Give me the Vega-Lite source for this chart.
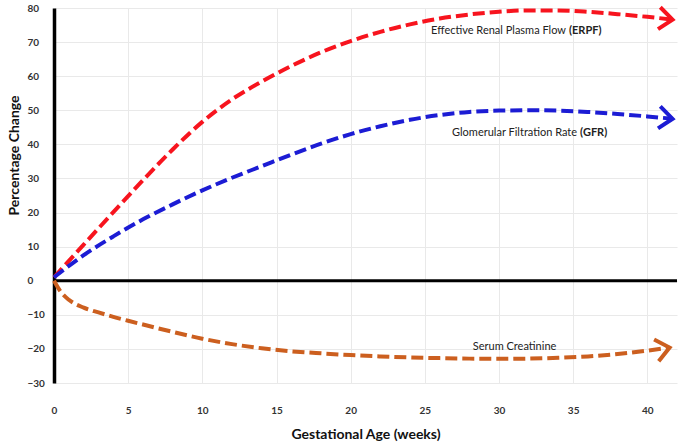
{
  "$schema": "https://vega.github.io/schema/vega-lite/v6.json",
  "autosize": {"type": "none"},
  "width": 623,
  "height": 375,
  "padding": {"left": 54, "top": 8, "right": 2, "bottom": 62},
  "background": "white",
  "config": {
    "view": {"stroke": null},
    "font": "Lato",
    "axisY": {
      "values": [-30, -20, -10, 0, 10, 20, 30, 40, 50, 60, 70, 80],
      "labelOverlap": false, "labelBound": false, "labelFlush": false,
      "titleFont": "Lato", "titleFontSize": 14, "titleFontWeight": "bold", "titleColor": "#111",
      "titleAngle": -90, "titleX": -40, "titleY": 147, "titleAlign": "center", "titleBaseline": "middle",
      "labelFont": "Lato", "labelFontSize": 10, "labelFontWeight": "bold", "labelColor": "#333",
      "labelAlign": "left", "labelPadding": 27, "ticks": false,
      "domain": true, "domainColor": "black", "domainWidth": 3.5,
      "grid": true, "gridColor": "#e9e9e9", "gridWidth": 1
    },
    "axisX": {
      "values": [0, 2.5, 5, 7.5, 10, 12.5, 15, 17.5, 20, 22.5, 25, 27.5, 30, 32.5, 35, 37.5, 40],
      "labelExpr": "datum.value % 5 === 0 ? datum.label : ''",
      "labelOverlap": false, "labelFlush": false, "labelBound": false,
      "titleFont": "Lato", "titleFontSize": 14, "titleFontWeight": "bold", "titleColor": "#111",
      "titlePadding": 12,
      "labelFont": "Lato", "labelFontSize": 10, "labelFontWeight": "bold", "labelColor": "#333",
      "labelPadding": 22, "ticks": false, "domain": false,
      "grid": true, "gridColor": "#e9e9e9", "gridWidth": 1
    }
  },
  "datasets": {
    "curves": [
      {"series": "ERPF", "week": 0, "value": 1},
      {"series": "ERPF", "week": 2, "value": 10.6},
      {"series": "ERPF", "week": 4, "value": 20.1},
      {"series": "ERPF", "week": 6, "value": 29.5},
      {"series": "ERPF", "week": 8, "value": 38.5},
      {"series": "ERPF", "week": 10, "value": 46.6},
      {"series": "ERPF", "week": 12, "value": 53.2},
      {"series": "ERPF", "week": 14, "value": 58.4},
      {"series": "ERPF", "week": 16, "value": 63},
      {"series": "ERPF", "week": 18, "value": 67},
      {"series": "ERPF", "week": 20, "value": 70.3},
      {"series": "ERPF", "week": 22, "value": 73},
      {"series": "ERPF", "week": 24, "value": 75.2},
      {"series": "ERPF", "week": 26, "value": 76.9},
      {"series": "ERPF", "week": 28, "value": 78.1},
      {"series": "ERPF", "week": 30, "value": 78.9},
      {"series": "ERPF", "week": 32, "value": 79.3},
      {"series": "ERPF", "week": 34, "value": 79.3},
      {"series": "ERPF", "week": 36, "value": 78.9},
      {"series": "ERPF", "week": 38, "value": 78.2},
      {"series": "ERPF", "week": 40, "value": 77.4},
      {"series": "ERPF", "week": 41.7, "value": 76.6},
      {"series": "GFR", "week": 0, "value": 1},
      {"series": "GFR", "week": 2, "value": 7.5},
      {"series": "GFR", "week": 4, "value": 13},
      {"series": "GFR", "week": 6, "value": 18},
      {"series": "GFR", "week": 8, "value": 22.4},
      {"series": "GFR", "week": 10, "value": 26.5},
      {"series": "GFR", "week": 12, "value": 30.2},
      {"series": "GFR", "week": 14, "value": 33.6},
      {"series": "GFR", "week": 16, "value": 37},
      {"series": "GFR", "week": 18, "value": 40.2},
      {"series": "GFR", "week": 20, "value": 43},
      {"series": "GFR", "week": 22, "value": 45.3},
      {"series": "GFR", "week": 24, "value": 47.2},
      {"series": "GFR", "week": 26, "value": 48.6},
      {"series": "GFR", "week": 28, "value": 49.5},
      {"series": "GFR", "week": 30, "value": 49.9},
      {"series": "GFR", "week": 32, "value": 50},
      {"series": "GFR", "week": 34, "value": 49.9},
      {"series": "GFR", "week": 36, "value": 49.5},
      {"series": "GFR", "week": 38, "value": 48.9},
      {"series": "GFR", "week": 40, "value": 48.2},
      {"series": "GFR", "week": 41.7, "value": 47.5},
      {"series": "Serum Creatinine", "week": 0, "value": 0},
      {"series": "Serum Creatinine", "week": 0.5, "value": -3.5},
      {"series": "Serum Creatinine", "week": 1, "value": -5.6},
      {"series": "Serum Creatinine", "week": 2, "value": -7.9},
      {"series": "Serum Creatinine", "week": 3, "value": -9.3},
      {"series": "Serum Creatinine", "week": 4, "value": -10.6},
      {"series": "Serum Creatinine", "week": 5, "value": -11.75},
      {"series": "Serum Creatinine", "week": 6, "value": -12.85},
      {"series": "Serum Creatinine", "week": 8, "value": -15},
      {"series": "Serum Creatinine", "week": 10, "value": -17},
      {"series": "Serum Creatinine", "week": 12, "value": -18.6},
      {"series": "Serum Creatinine", "week": 14, "value": -19.8},
      {"series": "Serum Creatinine", "week": 16, "value": -20.7},
      {"series": "Serum Creatinine", "week": 18, "value": -21.3},
      {"series": "Serum Creatinine", "week": 20, "value": -21.8},
      {"series": "Serum Creatinine", "week": 22, "value": -22.2},
      {"series": "Serum Creatinine", "week": 24, "value": -22.5},
      {"series": "Serum Creatinine", "week": 26, "value": -22.7},
      {"series": "Serum Creatinine", "week": 28, "value": -22.85},
      {"series": "Serum Creatinine", "week": 30, "value": -22.9},
      {"series": "Serum Creatinine", "week": 32, "value": -22.85},
      {"series": "Serum Creatinine", "week": 34, "value": -22.6},
      {"series": "Serum Creatinine", "week": 36, "value": -22.2},
      {"series": "Serum Creatinine", "week": 38, "value": -21.5},
      {"series": "Serum Creatinine", "week": 40, "value": -20.5},
      {"series": "Serum Creatinine", "week": 41.5, "value": -19.6}
    ],
    "labels": [
      {"series": "ERPF", "week": 34.65, "value": 73.3, "name": "Effective Renal Plasma Flow", "abbr": "(ERPF)"},
      {"series": "GFR", "week": 35.4, "value": 43.3, "name": "Glomerular Filtration Rate", "abbr": "(GFR)"},
      {"series": "Serum Creatinine", "week": 34.0, "value": -19.4, "name": "Serum Creatinine", "abbr": ""}
    ]
  },
  "layer": [
    {
      "data": {"values": [{"zero": 0}]},
      "mark": {"type": "rule", "color": "black", "strokeWidth": 3},
      "encoding": {
        "y": {"field": "zero", "type": "quantitative", "title": "Percentage Change"}
      }
    },
    {
      "data": {"name": "curves"},
      "mark": {"type": "line", "interpolate": "monotone", "strokeWidth": 4, "strokeDash": [12, 5], "strokeCap": "butt"},
      "encoding": {
        "x": {
          "field": "week", "type": "quantitative", "title": "Gestational Age (weeks)",
          "scale": {"domain": [0, 42], "nice": false, "zero": false},
          "axis": {"labelOverlap": false, "labelDx": 5, "values": [0, 2.5, 5, 7.5, 10, 12.5, 15, 17.5, 20, 22.5, 25, 27.5, 30, 32.5, 35, 37.5, 40]}
        },
        "y": {
          "field": "value", "type": "quantitative", "title": "Percentage Change",
          "scale": {"domain": [-30, 80], "nice": false, "zero": false}
        },
        "color": {
          "field": "series", "type": "nominal", "legend": null,
          "scale": {"domain": ["ERPF", "GFR", "Serum Creatinine"], "range": ["#f7141e", "#1c1cd4", "#cc5f1f"]}
        }
      }
    },
    {
      "data": {"name": "curves"},
      "transform": [
        {"joinaggregate": [{"op": "max", "field": "week", "as": "maxw"}], "groupby": ["series"]},
        {"filter": "datum.week === datum.maxw && datum.series === 'ERPF'"}
      ],
      "mark": {"type": "point", "shape": "M-1.1,-0.9L0,0L-1.1,0.9", "size": 600, "filled": false, "strokeWidth": 4, "angle": 6, "opacity": 1, "strokeJoin": "miter"},
      "encoding": {
        "x": {"field": "week", "type": "quantitative", "title": "Gestational Age (weeks)"},
        "y": {"field": "value", "type": "quantitative", "title": "Percentage Change"},
        "color": {"field": "series", "type": "nominal"}
      }
    },
    {
      "data": {"name": "curves"},
      "transform": [
        {"joinaggregate": [{"op": "max", "field": "week", "as": "maxw"}], "groupby": ["series"]},
        {"filter": "datum.week === datum.maxw && datum.series === 'GFR'"}
      ],
      "mark": {"type": "point", "shape": "M-1.1,-0.9L0,0L-1.1,0.9", "size": 600, "filled": false, "strokeWidth": 4, "angle": 6, "opacity": 1, "strokeJoin": "miter"},
      "encoding": {
        "x": {"field": "week", "type": "quantitative", "title": "Gestational Age (weeks)"},
        "y": {"field": "value", "type": "quantitative", "title": "Percentage Change"},
        "color": {"field": "series", "type": "nominal"}
      }
    },
    {
      "data": {"name": "curves"},
      "transform": [
        {"joinaggregate": [{"op": "max", "field": "week", "as": "maxw"}], "groupby": ["series"]},
        {"filter": "datum.week === datum.maxw && datum.series === 'Serum Creatinine'"}
      ],
      "mark": {"type": "point", "shape": "M-1.1,-0.9L0,0L-1.1,0.9", "size": 600, "filled": false, "strokeWidth": 4, "angle": -12, "opacity": 1, "strokeJoin": "miter"},
      "encoding": {
        "x": {"field": "week", "type": "quantitative", "title": "Gestational Age (weeks)"},
        "y": {"field": "value", "type": "quantitative", "title": "Percentage Change"},
        "color": {"field": "series", "type": "nominal"}
      }
    },
    {
      "data": {"name": "labels"},
      "mark": {"type": "text", "align": "right", "baseline": "middle", "dx": -2, "font": "Lato", "fontSize": 11, "color": "#222"},
      "encoding": {
        "x": {"field": "week", "type": "quantitative", "title": "Gestational Age (weeks)"},
        "y": {"field": "value", "type": "quantitative", "title": "Percentage Change"},
        "text": {"field": "name"}
      }
    },
    {
      "data": {"name": "labels"},
      "mark": {"type": "text", "align": "left", "baseline": "middle", "dx": 1, "font": "Lato", "fontSize": 11, "fontWeight": "bold", "color": "#222"},
      "encoding": {
        "x": {"field": "week", "type": "quantitative", "title": "Gestational Age (weeks)"},
        "y": {"field": "value", "type": "quantitative", "title": "Percentage Change"},
        "text": {"field": "abbr"}
      }
    }
  ]
}
